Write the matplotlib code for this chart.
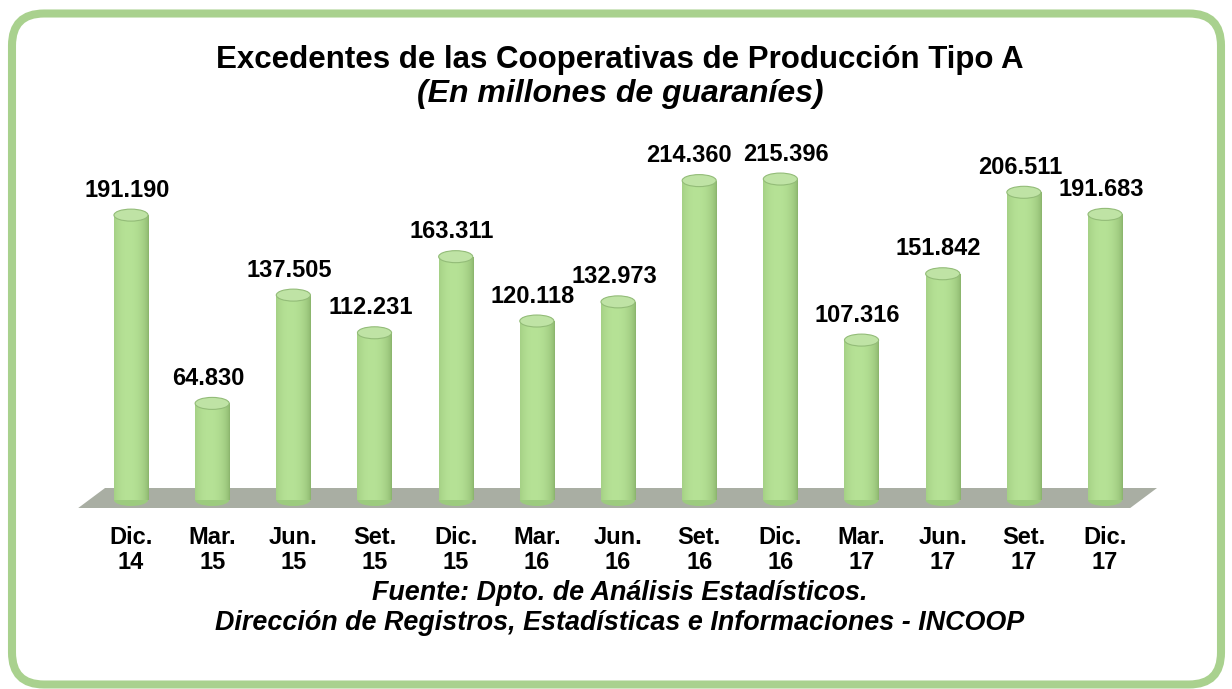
import numpy as np
import matplotlib.pyplot as plt
from matplotlib.patches import FancyBboxPatch, Ellipse, Rectangle, Polygon

plt.rcParams['font.family'] = ['Liberation Sans', 'DejaVu Sans']

# data
periods = ['Dic.\n14', 'Mar.\n15', 'Jun.\n15', 'Set.\n15', 'Dic.\n15', 'Mar.\n16', 'Jun.\n16',
           'Set.\n16', 'Dic.\n16', 'Mar.\n17', 'Jun.\n17', 'Set.\n17', 'Dic.\n17']
values = [191.190, 64.830, 137.505, 112.231, 163.311, 120.118, 132.973,
          214.360, 215.396, 107.316, 151.842, 206.511, 191.683]
value_labels = ['191.190', '64.830', '137.505', '112.231', '163.311', '120.118', '132.973',
                '214.360', '215.396', '107.316', '151.842', '206.511', '191.683']

title = 'Excedentes de las Cooperativas de Producción Tipo A'
subtitle = '(En millones de guaraníes)'
source = 'Fuente: Dpto. de Análisis Estadísticos.\nDirección de Registros, Estadísticas e Informaciones - INCOOP'

W, H = 1232, 689
fig = plt.figure(figsize=(W / 100, H / 100), dpi=100)

# green rounded frame
frame_ax = fig.add_axes([0, 0, 1, 1])
frame_ax.set_xlim(0, W)
frame_ax.set_ylim(H, 0)
frame_ax.axis('off')
frame_ax.add_patch(FancyBboxPatch((12, 13.5), W - 23, H - 18,
                                  boxstyle='round,pad=0,rounding_size=32',
                                  fc='white', ec='#A9D18E', lw=5.8))

# chart axes: pixel x = 131 + 81.17*i, pixel y = 500 - 1.49*v
px_x, px_y = 81.17, 1.49
x0, y0 = 131, 500
ax = fig.add_axes([0, 0, 1, 1])
ax.set_xlim(-x0 / px_x, (W - x0) / px_x)
ax.set_ylim(-(H - y0) / px_y, y0 / px_y)
ax.axis('off')
ax.patch.set_alpha(0)

n = len(values)
x = np.arange(n)

# floor
fl_top, fl_bot = 12 / px_y, -8 / px_y
ax.add_patch(Polygon([(-0.32, fl_top), (n - 1 + 0.64, fl_top),
                      (n - 1 + 0.31, fl_bot), (-0.65, fl_bot)],
                     closed=True, fc='#A9AEA3', ec='none', zorder=1))

# cylinders
bw = 0.42
eh = 12 / px_y
grad = np.linspace(0, 1, 200)
shade = np.clip(1 - ((grad - 0.42) / 0.58) ** 2, 0, 1) ** 0.6
dark = np.array([0x86, 0xB0, 0x68]) / 255
light = np.array([0xB6, 0xE2, 0x96]) / 255
img = dark[None, :] + (light - dark)[None, :] * shade[:, None]
img = img[None, :, :]

bars = ax.bar(x, values, width=bw, bottom=0, color='none', zorder=2)
for xi, v, b in zip(x, values, bars):
    im = ax.imshow(img, extent=(xi - bw / 2, xi + bw / 2, 0, v), aspect='auto',
                   zorder=2, interpolation='bilinear')
    clip = Rectangle((xi - bw / 2, 0), bw, v, transform=ax.transData)
    im.set_clip_path(clip)
    ax.add_patch(Ellipse((xi, 0), bw, eh, fc='#9CCB7E', ec='none', zorder=1.9))
    ax.add_patch(Ellipse((xi, v), bw, eh, fc='#BFE3A5', ec='#93BC78', lw=0.8, zorder=3))

# value labels, nudged apart where neighbours are at almost the same height
lab_x = x - 0.05
for i in range(n - 1):
    if abs(values[i] - values[i + 1]) < 12:
        lab_x[i] -= 0.08
        lab_x[i + 1] += 0.12
for lx, v, lab in zip(lab_x, values, value_labels):
    ax.text(lx, v + 9, lab, ha='center', va='bottom',
            fontsize=17, fontweight='bold', zorder=4)

# category labels
for xi, p in zip(x, periods):
    ax.text(xi, -(550 - y0) / px_y, p, ha='center', va='center',
            fontsize=17, fontweight='bold', linespacing=1.1)

fig.text(620 / W, 1 - 60 / H, title, ha='center', va='center',
         fontsize=22.5, fontweight='bold')
fig.text(620 / W, 1 - 94 / H, subtitle, ha='center', va='center',
         fontsize=23, fontweight='bold', style='italic')
fig.text(620 / W, 1 - 608 / H, source, ha='center', va='center',
         fontsize=19.4, fontweight='bold', style='italic', linespacing=1.17)

fig.savefig('out.png', dpi=100)
